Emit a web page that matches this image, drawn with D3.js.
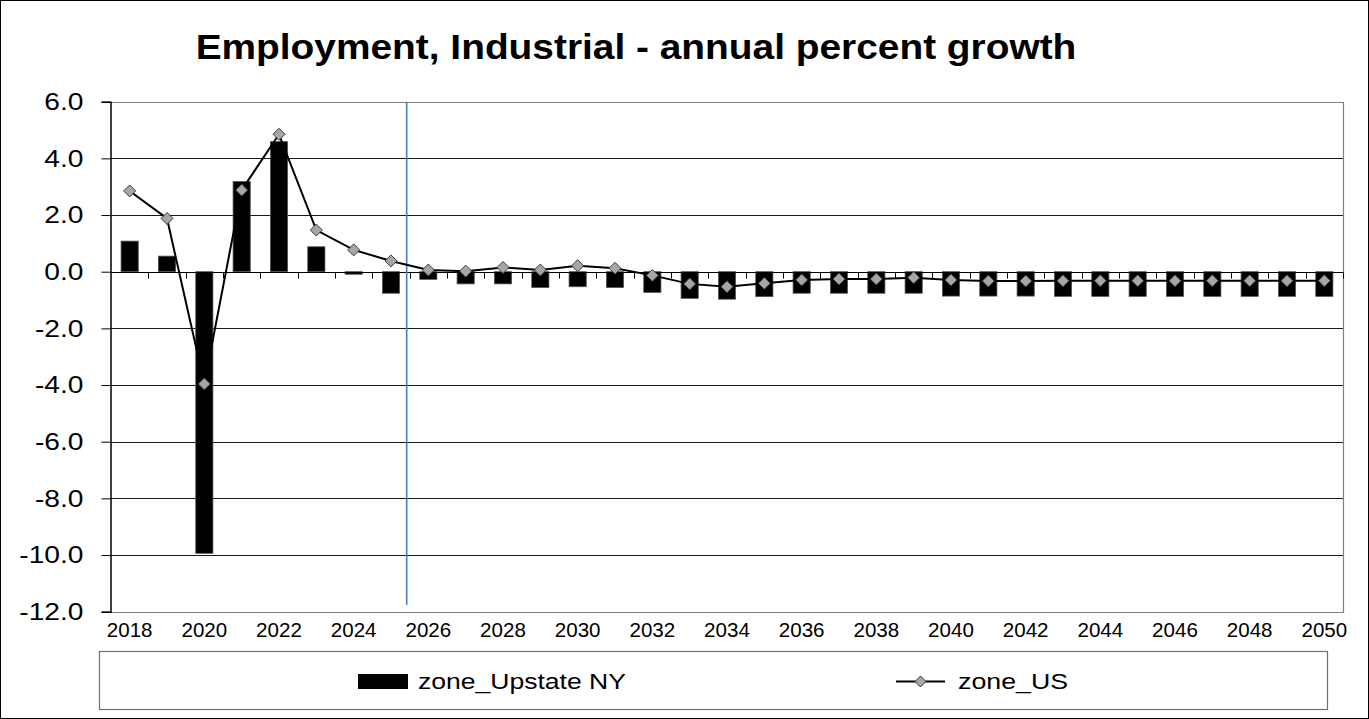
<!DOCTYPE html>
<html>
<head>
<meta charset="utf-8">
<script src="https://cdn.jsdelivr.net/npm/d3@7"></script>
<style>
  html, body { margin: 0; padding: 0; background: #fff; }
  svg { display: block; font-family: "Liberation Sans", Arial, sans-serif; }
</style>
</head>
<body>
<svg id="chart" width="1369" height="719"></svg>
<script>
// Years on the category axis
const years = d3.range(2018, 2051).map(String);

// Annual percent growth, industrial employment
const upstateNY = [1.08, 0.55, -9.94, 3.18, 4.59, 0.88, -0.09, -0.76,
  -0.27, -0.43, -0.43, -0.56, -0.53, -0.56, -0.73, -0.94, -0.97, -0.88,
  -0.76, -0.76, -0.76, -0.76, -0.86, -0.86, -0.86, -0.87, -0.87, -0.87,
  -0.87, -0.87, -0.87, -0.87, -0.87];
const us = [2.85, 1.88, -3.96, 2.88, 4.85, 1.47, 0.77, 0.38,
  0.06, 0.02, 0.15, 0.06, 0.21, 0.12, -0.13, -0.43, -0.53, -0.41,
  -0.29, -0.26, -0.26, -0.21, -0.29, -0.33, -0.33, -0.32, -0.32, -0.32,
  -0.32, -0.32, -0.32, -0.32, -0.32];

const yTicks = [6, 4, 2, 0, -2, -4, -6, -8, -10, -12];
const xLabelYears = years.filter(y => +y % 2 === 0);
const forecastStart = "2025";

const titleText = "Employment, Industrial - annual percent growth";
const seriesNames = ["zone_Upstate NY", "zone_US"];

const W = 1369, H = 719;
const plot = { left: 111, right: 1343, top: 101.7, bottom: 611.7 };

const svg = d3.select("#chart");

// widen glyphs a little, the way the original export renders its type
function stretch(sel, f) {
  sel.each(function () {
    const w = this.getComputedTextLength();
    d3.select(this).attr("textLength", w * f).attr("lengthAdjust", "spacingAndGlyphs");
  });
}

// outer frame
svg.append("rect")
  .attr("x", 0.5).attr("y", 0.5).attr("width", W - 1).attr("height", H - 1)
  .attr("fill", "#fff").attr("stroke", "#000").attr("stroke-width", 1);

const x = d3.scaleBand().domain(years).range([plot.left, plot.right]).paddingInner(0.54).paddingOuter(0.27);
const xStep = (plot.right - plot.left) / years.length;
const xBound = d3.scaleBand().domain(years).range([plot.left, plot.right]).padding(0);
const y = d3.scaleLinear().domain([-12, 6]).range([plot.bottom, plot.top]);
const fmt = v => d3.format(".1f")(v).replace("\u2212", "-");

// title
svg.append("text")
  .attr("x", 636).attr("y", 58.5)
  .attr("text-anchor", "middle")
  .attr("font-size", 35).attr("font-weight", "bold")
  .attr("fill", "#000")
  .text(titleText)
  .call(stretch, 1.11);

// gridlines
svg.append("g").selectAll("line")
  .data(yTicks.filter(t => t !== 0 && t !== 6 && t !== -12))
  .join("line")
  .attr("x1", plot.left).attr("x2", plot.right)
  .attr("y1", d => Math.round(y(d)) + 0.5).attr("y2", d => Math.round(y(d)) + 0.5)
  .attr("stroke", "#1a1a1a").attr("stroke-width", 1);

// plot border (top, right, bottom)
svg.append("path")
  .attr("d", `M${plot.left},${Math.round(plot.top) + 0.5}H${plot.right + 0.5}V${Math.round(plot.bottom) + 0.5}H${plot.left}`)
  .attr("fill", "none").attr("stroke", "#808080").attr("stroke-width", 1.2);

// y axis
const yAxis = d3.axisLeft(y).tickValues(yTicks).tickFormat(fmt).tickSize(9).tickPadding(18);
const gy = svg.append("g").attr("transform", `translate(${plot.left - 0.5},0)`).call(yAxis);
gy.select(".domain").attr("stroke", "#000").attr("stroke-width", 1.5);
gy.selectAll(".tick line").attr("stroke", "#000");
gy.selectAll(".tick text").attr("font-size", 24.5).attr("fill", "#000")
  .attr("font-family", "Liberation Sans, Arial, sans-serif")
  .call(stretch, 1.15);

// x labels under the plot
svg.append("g").selectAll("text")
  .data(xLabelYears)
  .join("text")
  .attr("x", d => x(d) + x.bandwidth() / 2)
  .attr("y", 637.3)
  .attr("text-anchor", "middle")
  .attr("font-size", 19.6).attr("fill", "#000")
  .text(d => d)
  .call(stretch, 1.05);

// bars
svg.append("g").selectAll("rect")
  .data(years.map((yr, i) => ({ yr, v: upstateNY[i] })))
  .join("rect")
  .attr("x", d => x(d.yr))
  .attr("width", x.bandwidth())
  .attr("y", d => y(Math.max(0, d.v)))
  .attr("height", d => Math.abs(y(d.v) - y(0)))
  .attr("fill", "#000")
  .attr("stroke", "#555").attr("stroke-width", 0.8);

// zero axis line with category ticks
const zeroY = Math.round(y(0)) + 0.5;
svg.append("line")
  .attr("x1", plot.left).attr("x2", plot.right)
  .attr("y1", zeroY).attr("y2", zeroY)
  .attr("stroke", "#000").attr("stroke-width", 1.2);
svg.append("g").selectAll("line")
  .data(years.slice(1).concat(["end"]))
  .join("line")
  .attr("x1", d => Math.round(d === "end" ? plot.right : xBound(d)) + 0.5)
  .attr("x2", d => Math.round(d === "end" ? plot.right : xBound(d)) + 0.5)
  .attr("y1", zeroY).attr("y2", zeroY + 6)
  .attr("stroke", "#000").attr("stroke-width", 1);

// forecast divider
const divX = xBound(forecastStart) + xStep * 0.92;
svg.append("line")
  .attr("x1", divX).attr("x2", divX)
  .attr("y1", plot.top).attr("y2", 605)
  .attr("stroke", "#4a7ebb").attr("stroke-width", 1.6);

// US line
const linePts = years.map((yr, i) => [x(yr) + x.bandwidth() / 2, y(us[i])]);
svg.append("path")
  .attr("d", d3.line()(linePts))
  .attr("fill", "none").attr("stroke", "#000").attr("stroke-width", 2);

const diamond = (cx, cy, r) => `M${cx},${cy - r}L${cx + r},${cy}L${cx},${cy + r}L${cx - r},${cy}Z`;
svg.append("g").selectAll("path")
  .data(linePts)
  .join("path")
  .attr("d", d => diamond(d[0], d[1], 6))
  .attr("fill", "#a6a6a6").attr("stroke", "#3a3a3a").attr("stroke-width", 1);

// legend
svg.append("rect")
  .attr("x", 99.5).attr("y", 651.5).attr("width", 1228).attr("height", 58)
  .attr("fill", "#fff").attr("stroke", "#707070").attr("stroke-width", 1.2);
svg.append("rect")
  .attr("x", 358).attr("y", 674).attr("width", 50).attr("height", 15)
  .attr("fill", "#000");
svg.append("text")
  .attr("x", 418).attr("y", 688.5)
  .attr("font-size", 22.3).attr("fill", "#000")
  .text(seriesNames[0])
  .call(stretch, 1.19);
svg.append("line")
  .attr("x1", 896).attr("x2", 945).attr("y1", 681.5).attr("y2", 681.5)
  .attr("stroke", "#000").attr("stroke-width", 2);
svg.append("path")
  .attr("d", diamond(920.5, 681.5, 5.5))
  .attr("fill", "#a6a6a6").attr("stroke", "#3a3a3a").attr("stroke-width", 1);
svg.append("text")
  .attr("x", 958).attr("y", 688.5)
  .attr("font-size", 22.3).attr("fill", "#000")
  .text(seriesNames[1])
  .call(stretch, 1.2);
</script>
</body>
</html>
